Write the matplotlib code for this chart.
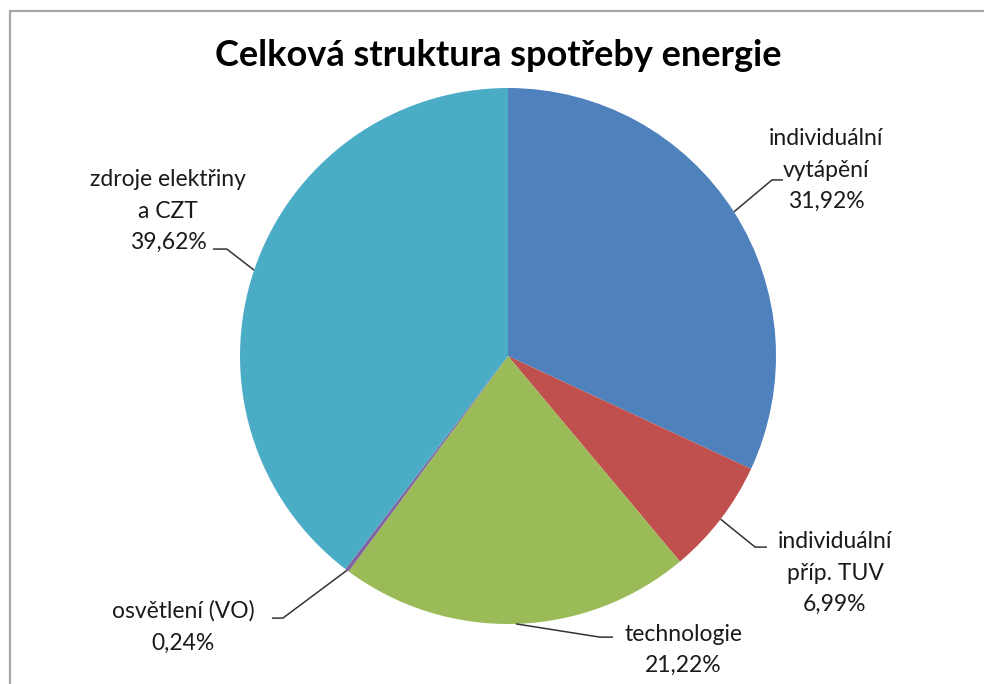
import numpy as np
import matplotlib
matplotlib.use("Agg")
import matplotlib.pyplot as plt
from matplotlib.lines import Line2D

plt.rcParams['font.family'] = ['Lato', 'DejaVu Sans']

labels = ['individuální\nvytápění', 'individuální\npříp. TUV', 'technologie',
          'osvětlení (VO)', 'zdroje elektřiny\na CZT']
shares = [31.92, 6.99, 21.22, 0.24, 39.62]
colors = ['#4F81BD', '#C0504D', '#9BBB59', '#8064A2', '#4BACC6']

# label placement (data units, pie radius = 1): text centre, elbow, end of leader
text_pos = [(1.187, 0.694), (1.220, -0.810), (0.653, -1.097), (-1.213, -1.011), (-1.269, 0.541)]
elbow_pos = [(0.985, 0.657), (0.922, -0.713), (0.343, -1.049), (-0.840, -0.978), (-1.049, 0.399)]
end_pos = [(1.026, 0.657), (0.966, -0.713), (0.392, -1.049), (-0.881, -0.978), (-1.101, 0.399)]

W, H = 984, 684
fig = plt.figure(figsize=(W / 100, H / 100), dpi=100)
fig.patch.set_facecolor('white')

# chart frame (only left and top edges visible)
fx, fy = 9.5 / W, 1 - 10.5 / H
fig.add_artist(Line2D([fx, fx, 1.01], [-0.01, fy, fy], transform=fig.transFigure,
                      color='#a6a6a6', lw=1.6))

cx, cy, r = 508, 356, 268
ax = fig.add_axes([(cx - r) / W, (H - cy - r) / H, 2 * r / W, 2 * r / H])
wedges, _ = ax.pie(shares, colors=colors, startangle=90, counterclock=False,
                   wedgeprops=dict(linewidth=0))
ax.set_xlim(-1, 1)
ax.set_ylim(-1, 1)
ax.set_aspect('equal')
ax.axis('off')

for w, lab, val, tp, ep, nd in zip(wedges, labels, shares, text_pos, elbow_pos, end_pos):
    mid = np.deg2rad((w.theta1 + w.theta2) / 2)
    sx, sy = np.cos(mid), np.sin(mid)
    ax.plot([sx, ep[0], nd[0]], [sy, ep[1], nd[1]], color='#333333', lw=1.1,
            clip_on=False, solid_capstyle='butt')
    txt = lab + '\n' + ('%.2f' % val).replace('.', ',') + '%'
    ax.text(tp[0], tp[1], txt, ha='center', va='center', multialignment='center',
            fontsize=16.5, color='#1a1a1a', linespacing=1.62, clip_on=False)

fig.text(498 / W, 1 - 55 / H, 'Celková struktura spotřeby energie', ha='center', va='center',
         fontsize=26, fontweight='bold', color='black')

fig.savefig('out.png', dpi=100)
